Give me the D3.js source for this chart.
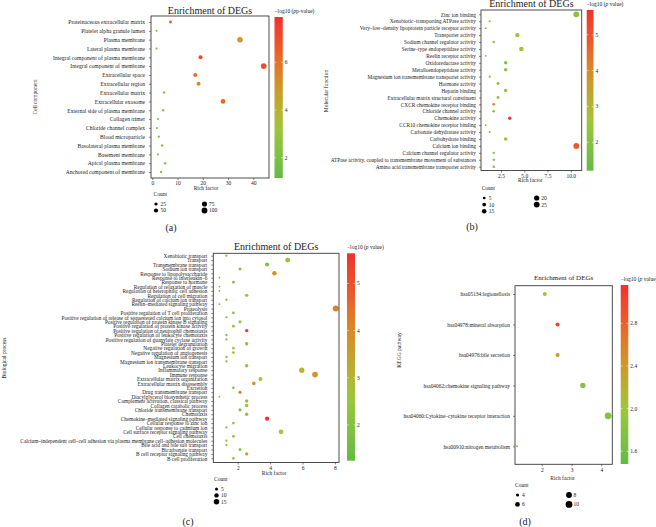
<!DOCTYPE html>
<html>
<head>
<meta charset="utf-8">
<script src="https://cdn.jsdelivr.net/npm/d3@7"></script>
<style>
  body { margin: 0; background: #fff; }
  text { font-family: "Liberation Serif", "DejaVu Serif", serif; fill: #222; }
  .axis path { display: none; }
  .axis line { stroke: #333; stroke-width: 0.6; }
</style>
</head>
<body>
<div class="chart"></div>
<script>
// ---- Panel (a): cell component ----
var aTerms = ["Proteinaceous extracellular matrix", "Platelet alpha granule lumen", "Plasma membrane",
  "Lateral plasma membrane", "Integral component of plasma membrane", "Integral component of membrane",
  "Extracellular space", "Extracellular region", "Extracellular matrix", "Extracellular exosome",
  "External side of plasma membrane", "Collagen trimer", "Chloride channel complex", "Blood microparticle",
  "Basolateral plasma membrane", "Basement membrane", "Apical plasma membrane", "Anchored component of membrane"];
var aRich = [7.2, 1.7, 34.7, 1.7, 19.1, 44.1, 17.0, 18.3, 4.7, 28.0, 4.3, 2.2, 1.8, 2.6, 3.9, 2.2, 5.1, 3.5];
var aCount = [20, 6, 90, 6, 45, 100, 45, 45, 12, 65, 10, 7, 5, 8, 10, 7, 13, 9];
var aLogP = [6.4, 1.8, 5.0, 1.8, 7.2, 7.0, 6.0, 5.3, 2.6, 6.2, 2.4, 2.2, 1.6, 2.1, 2.3, 1.9, 2.6, 2.1];
var aXTicks = [0, 10, 20, 30, 40];
var aColorTicks = [2, 4, 6];
var aCountBreaks = [25, 50, 75, 100];

// ---- Panel (b): molecular function ----
var bTerms = ["Zinc ion binding", "Xenobiotic\u2013transporting ATPase activity",
  "Very\u2013low\u2013density lipoprotein particle receptor activity", "Transporter activity",
  "Sodium channel regulator activity", "Serine\u2013type endopeptidase activity", "Reelin receptor activity",
  "Oxidoreductase activity", "Metalloendopeptidase activity", "Magnesium ion transmembrane transporter activity",
  "Hormone activity", "Heparin binding", "Extracellular matrix structural constituent",
  "CXCR chemokine receptor binding", "Chloride channel activity", "Chemokine activity",
  "CCR10 chemokine receptor binding", "Carbonate dehydratase activity", "Carbohydrate binding",
  "Calcium ion binding", "Calcium channel regulator activity",
  "ATPase activity, coupled to transmembrane movement of substances", "Amino acid transmembrane transporter activity"];
var bRich = [10.6, 1.29, 0.86, 4.26, 1.72, 4.69, 0.86, 3.0, 3.0, 1.29, 2.18, 3.0, 2.18, 1.72, 1.72, 3.44, 0.86, 1.29, 3.0, 10.6, 1.72, 1.72, 1.72];
var bCount = [25, 3, 2, 14, 4, 15, 2, 8, 8, 3, 6, 8, 6, 5, 4, 8, 2, 3, 8, 25, 4, 4, 4];
var bLogP = [2.0, 1.9, 1.5, 2.7, 2.0, 2.8, 1.5, 1.9, 1.9, 1.9, 2.1, 2.2, 2.3, 4.0, 1.9, 5.6, 1.5, 1.9, 2.1, 4.9, 2.0, 1.9, 1.9];
var bXTicks = [2.5, 5.0, 7.5, 10.0];
var bColorTicks = [2, 3, 4, 5];
var bCountBreaks = [5, 10, 15, 20, 25];

// ---- Panel (c): biological process ----
var cTerms = ["Xenobiotic transport", "Transport", "Transmembrane transport", "Sodium ion transport",
  "Response to lipopolysaccharide", "Response to interleukin\u20136", "Response to hormone",
  "Regulation of relaxation of muscle", "Regulation of heterophilic cell adhesion", "Regulation of cell migration",
  "Regulation of calcium ion transport", "Reelin\u2013mediated signaling pathway", "Proteolysis",
  "Positive regulation of T cell proliferation",
  "Positive regulation of release of sequestered calcium ion into cytosol",
  "Positive regulation of protein kinase B signaling", "Positive regulation of protein kinase activity",
  "Positive regulation of neutrophil chemotaxis", "Positive regulation of leukocyte chemotaxis",
  "Positive regulation of guanylate cyclase activity", "Platelet degranulation", "Negative regulation of growth",
  "Negative regulation of angiogenesis", "Magnesium ion transport", "Magnesium ion transmembrane transport",
  "Leukocyte migration", "Inflammatory response", "Immune response", "Extracellular matrix organization",
  "Extracellular matrix disassembly", "Excretion", "Drug transmembrane transport",
  "Diacylglycerol biosynthetic process", "Complement activation, classical pathway", "Collagen catabolic process",
  "Chloride transmembrane transport", "Chemotaxis", "Chemokine\u2013mediated signaling pathway",
  "Cellular response to zinc ion", "Cellular response to cadmium ion", "Cell surface receptor signaling pathway",
  "Cell chemotaxis",
  "Calcium\u2013independent cell\u2013cell adhesion via plasma membrane cell\u2013adhesion molecules",
  "Bile acid and bile salt transport", "Bicarbonate transport", "B cell receptor signaling pathway",
  "B cell proliferation"];
var cRich = [1.30, 5.08, 3.81, 2.14, 4.26, 0.87, 1.73, 0.87, 0.87, 2.55, 1.30, 0.87, 8.05, 1.73, 1.30, 2.14,
  1.73, 2.55, 1.30, 1.30, 2.55, 1.73, 1.73, 1.30, 1.30, 2.55, 5.95, 6.77, 3.40, 2.99, 1.73, 2.14, 0.87, 2.55,
  2.55, 2.14, 2.55, 3.81, 1.73, 1.30, 4.67, 1.73, 1.30, 1.30, 2.14, 2.55, 1.73];
var cCount = [3, 12, 9, 5, 10, 2, 4, 2, 2, 6, 3, 2, 18, 4, 3, 5, 4, 6, 3, 3, 6, 4, 4, 3, 3, 6, 14, 16, 8, 7,
  4, 5, 2, 6, 6, 5, 6, 9, 4, 3, 11, 4, 3, 3, 5, 6, 4];
var cLogP = [2.0, 2.2, 2.1, 2.0, 3.9, 1.6, 1.9, 1.6, 1.6, 2.4, 2.0, 1.6, 4.1, 2.0, 2.0, 2.2, 2.0, 5.5, 2.0, 2.0,
  2.1, 2.8, 2.3, 2.0, 2.0, 2.2, 3.0, 3.8, 2.4, 3.6, 2.1, 4.3, 1.7, 2.2, 2.8, 2.0, 2.2, 5.6, 2.8, 2.0, 2.6, 2.1,
  2.0, 2.0, 2.3, 3.5, 2.3];
var cXTicks = [2, 4, 6, 8];
var cColorTicks = [2, 3, 4, 5];
var cCountBreaks = [5, 10, 15];

// ---- Panel (d): KEGG pathway ----
var dTerms = ["hsa05134:legionellosis", "hsa04978:mineral absorption", "hsa04976:bile secretion",
  "hsa04062:chemokine signaling pathway", "hsa04060:Cytokine\u2013cytokine receptor interaction",
  "hsa00910:nitrogen metabolism"];
var dRich = [2.10, 2.53, 2.53, 3.38, 4.23, 1.17];
var dCount = [5, 5, 5, 7, 10, 3];
var dLogP = [2.0, 3.05, 2.45, 1.8, 1.75, 1.6];
var dXTicks = [2, 3, 4];
var dColorTicks = [1.6, 2.0, 2.4, 2.8];
var dCountBreaks = [4, 6, 8, 10];

// gradient stops (fraction of colour-bar range -> colour)
var gradStops = [0, 0.3, 0.55, 0.8, 1];
var gradColors = ["#62bb46", "#9cc63c", "#cc9a2a", "#ec5a2b", "#f0302d"];

var svg = d3.select(".chart").append("svg")
  .attr("width", 656)
  .attr("height", 527);
var defs = svg.append("defs");

function drawPanel(p) {
  var g = svg.append("g");

  var x = d3.scaleLinear().domain(p.xDomain).range([p.box[0], p.box[1]]);
  var y = d3.scalePoint().domain(p.terms).range(p.rows);
  var frac = d3.scaleLinear().domain(p.cbDomain).range([0, 1]).clamp(true);
  var ramp = d3.scaleLinear().domain(gradStops).range(gradColors).interpolate(d3.interpolateLab);
  var color = v => ramp(frac(v));
  var size = d3.scaleRadial().domain(p.countDomain).range(p.rRange);

  // title
  g.append("text").attr("x", (p.box[0] + p.box[1]) / 2).attr("y", p.titleY)
    .attr("text-anchor", "middle").style("font-size", p.titleSize + "px").text("Enrichment of DEGs");

  // axes
  var xAxis = g.append("g").attr("class", "axis")
    .attr("transform", `translate(0, ${p.box[3]})`)
    .call(d3.axisBottom(x).tickValues(p.xTicks).tickSize(2).tickPadding(1.5).tickFormat(p.xFormat));
  xAxis.selectAll("text").style("font-size", "5.5px").style("font-family", "Liberation Serif");

  var yAxis = g.append("g").attr("class", "axis")
    .attr("transform", `translate(${p.box[0]}, 0)`)
    .call(d3.axisLeft(y).tickSize(2).tickPadding(p.labelPad));
  yAxis.selectAll("text").style("font-size", p.labelSize + "px").style("font-family", "Liberation Serif");

  // points
  var idx = d3.range(p.terms.length);
  g.selectAll("circle.pt").data(idx).enter().append("circle")
    .attr("class", "pt")
    .attr("cx", i => x(p.rich[i]))
    .attr("cy", i => y(p.terms[i]))
    .attr("r", i => size(p.count[i]))
    .attr("fill", i => color(p.logP[i]));

  // panel border
  g.append("rect").attr("x", p.box[0]).attr("y", p.box[2])
    .attr("width", p.box[1] - p.box[0]).attr("height", p.box[3] - p.box[2])
    .attr("fill", "none").attr("stroke", "#3a3a3a").attr("stroke-width", 0.9);

  // axis titles
  g.append("text").attr("x", (p.box[0] + p.box[1]) / 2 + p.xTitleDx).attr("y", p.xTitleY)
    .attr("text-anchor", "middle").style("font-size", "5.5px").text("Rich factor");
  g.append("text").attr("transform", `translate(${p.yTitleX}, ${p.yTitleY}) rotate(-90)`)
    .attr("text-anchor", "middle").style("font-size", "5.5px").text(p.yTitle);

  // colour bar
  var gid = "grad" + p.id;
  var grad = defs.append("linearGradient").attr("id", gid)
    .attr("x1", 0).attr("y1", 1).attr("x2", 0).attr("y2", 0);
  d3.range(21).forEach(function (k) {
    grad.append("stop").attr("offset", k / 20).attr("stop-color", ramp(k / 20));
  });
  var cb = p.cb;
  g.append("rect").attr("x", cb.x).attr("y", cb.y0).attr("width", cb.w).attr("height", cb.y1 - cb.y0)
    .attr("fill", `url(#${gid})`);
  var cy = d3.scaleLinear().domain(p.cbDomain).range([cb.y1, cb.y0]);
  p.colorTicks.forEach(function (t) {
    g.append("line").attr("x1", cb.x).attr("x2", cb.x + 1.6).attr("y1", cy(t)).attr("y2", cy(t))
      .attr("stroke", "#fff").attr("stroke-width", 0.6);
    g.append("line").attr("x1", cb.x + cb.w - 1.6).attr("x2", cb.x + cb.w).attr("y1", cy(t)).attr("y2", cy(t))
      .attr("stroke", "#fff").attr("stroke-width", 0.6);
    g.append("text").attr("x", cb.x + cb.w + 2).attr("y", cy(t)).attr("dy", "0.35em")
      .style("font-size", "5.5px").text(p.cbFormat(t));
  });
  var cbt = g.append("text").attr("x", cb.x).attr("y", cb.y0 - 4).style("font-size", "5.5px");
  cbt.append("tspan").text("\u2212log10 (");
  cbt.append("tspan").style("font-style", "italic").text("p");
  cbt.append("tspan").text(p.cbSuffix);

  // size legend
  var lg = p.legend;
  g.append("text").attr("x", lg.x).attr("y", lg.y).style("font-size", "5.5px").text("Count");
  p.countBreaks.forEach(function (c, k) {
    var col = Math.floor(k / lg.perCol), row = k % lg.perCol;
    var cx = lg.x + 2.5 + col * lg.colW, yy = lg.y + 8 + row * lg.rowH;
    g.append("circle").attr("cx", cx).attr("cy", yy).attr("r", size(c)).attr("fill", "#000");
    g.append("text").attr("x", cx + 4.5).attr("y", yy).attr("dy", "0.35em")
      .style("font-size", "5.5px").text(c);
  });

  // panel letter
  g.append("text").attr("x", p.letter[0]).attr("y", p.letter[1]).attr("text-anchor", "middle")
    .style("font-size", "10px").text(p.letterText);
}

drawPanel({
  id: "a", terms: aTerms, rich: aRich, count: aCount, logP: aLogP,
  box: [151, 269, 16, 178], rows: [22, 172], xDomain: [-0.5, 46.2], xTicks: aXTicks, xFormat: d3.format("d"),
  titleY: 14, titleSize: 10, labelSize: 5.6, labelPad: 4,
  xTitleY: 189.5, xTitleDx: -4, yTitle: "Cell component", yTitleX: 37, yTitleY: 97,
  cbDomain: [1.15, 7.9], colorTicks: aColorTicks, cbFormat: d3.format("d"), cbSuffix: "p-value)",
  cb: { x: 274.5, w: 8.3, y0: 17, y1: 178 },
  countDomain: [5, 100], rRange: [1.0, 2.9], countBreaks: aCountBreaks,
  legend: { x: 153.5, y: 196, perCol: 2, colW: 48.5, rowH: 6.5 },
  letter: [171, 231], letterText: "(a)"
});

drawPanel({
  id: "b", terms: bTerms, rich: bRich, count: bCount, logP: bLogP,
  box: [481, 581.7, 10, 170.5], rows: [14.3, 166.7], xDomain: [0.35, 11.18], xTicks: bXTicks, xFormat: d3.format(".1f"),
  titleY: 7, titleSize: 10, labelSize: 5.3, labelPad: 3,
  xTitleY: 182, xTitleDx: -1, yTitle: "Molecular function", yTitleX: 328, yTitleY: 91,
  cbDomain: [1.21, 5.69], colorTicks: bColorTicks, cbFormat: d3.format("d"), cbSuffix: " value)",
  cb: { x: 586.7, w: 6.8, y0: 10, y1: 170.7 },
  countDomain: [2, 25], rRange: [0.9, 2.9], countBreaks: bCountBreaks,
  legend: { x: 481.7, y: 190, perCol: 3, colW: 52.5, rowH: 6.6 },
  letter: [472, 230], letterText: "(b)"
});

drawPanel({
  id: "c", terms: cTerms, rich: cRich, count: cCount, logP: cLogP,
  box: [213.3, 339, 253.3, 462.5], rows: [255.7, 458.3], xDomain: [0.49, 8.25], xTicks: cXTicks, xFormat: d3.format("d"),
  titleY: 250, titleSize: 10, labelSize: 5.3, labelPad: 4,
  xTitleY: 474.5, xTitleDx: -2, yTitle: "Biological process", yTitleX: 6, yTitleY: 358,
  cbDomain: [1.24, 5.64], colorTicks: cColorTicks, cbFormat: d3.format("d"), cbSuffix: " value)",
  cb: { x: 347, w: 8, y0: 253.3, y1: 460.7 },
  countDomain: [2, 18], rRange: [0.9, 3.0], countBreaks: cCountBreaks,
  legend: { x: 214, y: 481, perCol: 3, colW: 40, rowH: 6.4 },
  letter: [188, 525], letterText: "(c)"
});

drawPanel({
  id: "d", terms: dTerms, rich: dRich, count: dCount, logP: dLogP,
  box: [515, 612.3, 285.7, 464.3], rows: [294, 446.3], xDomain: [1.10, 4.37], xTicks: dXTicks, xFormat: d3.format("d"),
  titleY: 280, titleSize: 7, labelSize: 5.4, labelPad: 3,
  xTitleY: 480, xTitleDx: -1, yTitle: "KEGG pathway", yTitleX: 401, yTitleY: 350,
  cbDomain: [1.48, 3.16], colorTicks: dColorTicks, cbFormat: d3.format(".1f"), cbSuffix: " value)",
  cb: { x: 620.7, w: 7.6, y0: 285, y1: 464 },
  countDomain: [3, 10], rRange: [1.0, 3.4], countBreaks: dCountBreaks,
  legend: { x: 515, y: 487, perCol: 2, colW: 51.5, rowH: 9.4 },
  letter: [525, 525], letterText: "(d)"
});
</script>
</body>
</html>
